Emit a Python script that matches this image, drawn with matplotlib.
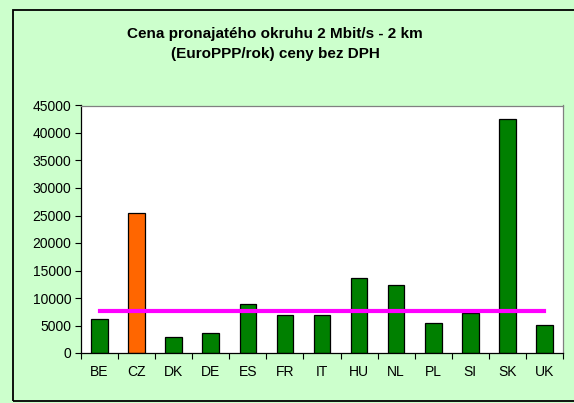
import matplotlib.pyplot as plt
import numpy as np
from matplotlib.patches import Rectangle

plt.rcParams['font.family'] = ['Liberation Sans', 'DejaVu Sans']

countries = ['BE', 'CZ', 'DK', 'DE', 'ES', 'FR', 'IT', 'HU', 'NL', 'PL', 'SI', 'SK', 'UK']
prices = [6200, 25400, 2850, 3570, 8890, 6950, 6950, 13660, 12280, 5500, 7310, 42580, 5020]
average = [7680] * len(countries)
bar_colors = ['#008000', '#FF6600'] + ['#008000'] * 11

fig = plt.figure(figsize=(5.74, 4.03), dpi=100)
fig.patch.set_facecolor('#CCFFCC')

# outer frame (cut off on the right in the original)
fig.patches.append(Rectangle((13 / 574, 1 - 401 / 403), 1.0, (401 - 9.5) / 403,
                             transform=fig.transFigure, fill=False,
                             edgecolor='black', linewidth=1.3, clip_on=False))

ax = fig.add_axes([81 / 574, 50 / 403, 482 / 574, 247.5 / 403])
ax.set_facecolor('white')

x = np.arange(len(countries))
ax.bar(x, prices, width=0.45, color=bar_colors, edgecolor='black', linewidth=0.9, zorder=2)
ax.plot(x, average, color='#FF00FF', linewidth=3, zorder=3)

ax.set_xlim(-0.5, len(countries) - 0.5)
ax.set_ylim(0, 45000)
ax.set_yticks(range(0, 45001, 5000))
ax.set_xticks(x)
ax.set_xticklabels(countries)
ax.set_xticks(np.arange(-0.5, len(countries), 1), minor=True)
ax.tick_params(axis='x', which='major', length=0, pad=9, labelsize=10)
ax.tick_params(axis='x', which='minor', length=4, width=0.8, direction='out')
ax.tick_params(axis='y', length=4, width=0.8, direction='out', labelsize=10, pad=3)

for side in ['top', 'right']:
    ax.spines[side].set_color('#808080')
for side in ['left', 'bottom']:
    ax.spines[side].set_color('black')
for sp in ax.spines.values():
    sp.set_linewidth(0.9)

fig.text(275 / 574, 1 - 44 / 403, 'Cena pronajatého okruhu 2 Mbit/s - 2 km\n(EuroPPP/rok) ceny bez DPH',
         ha='center', va='center', fontsize=11, fontweight='bold', linespacing=1.6)

fig.savefig('out.png', dpi=100, facecolor=fig.get_facecolor())
